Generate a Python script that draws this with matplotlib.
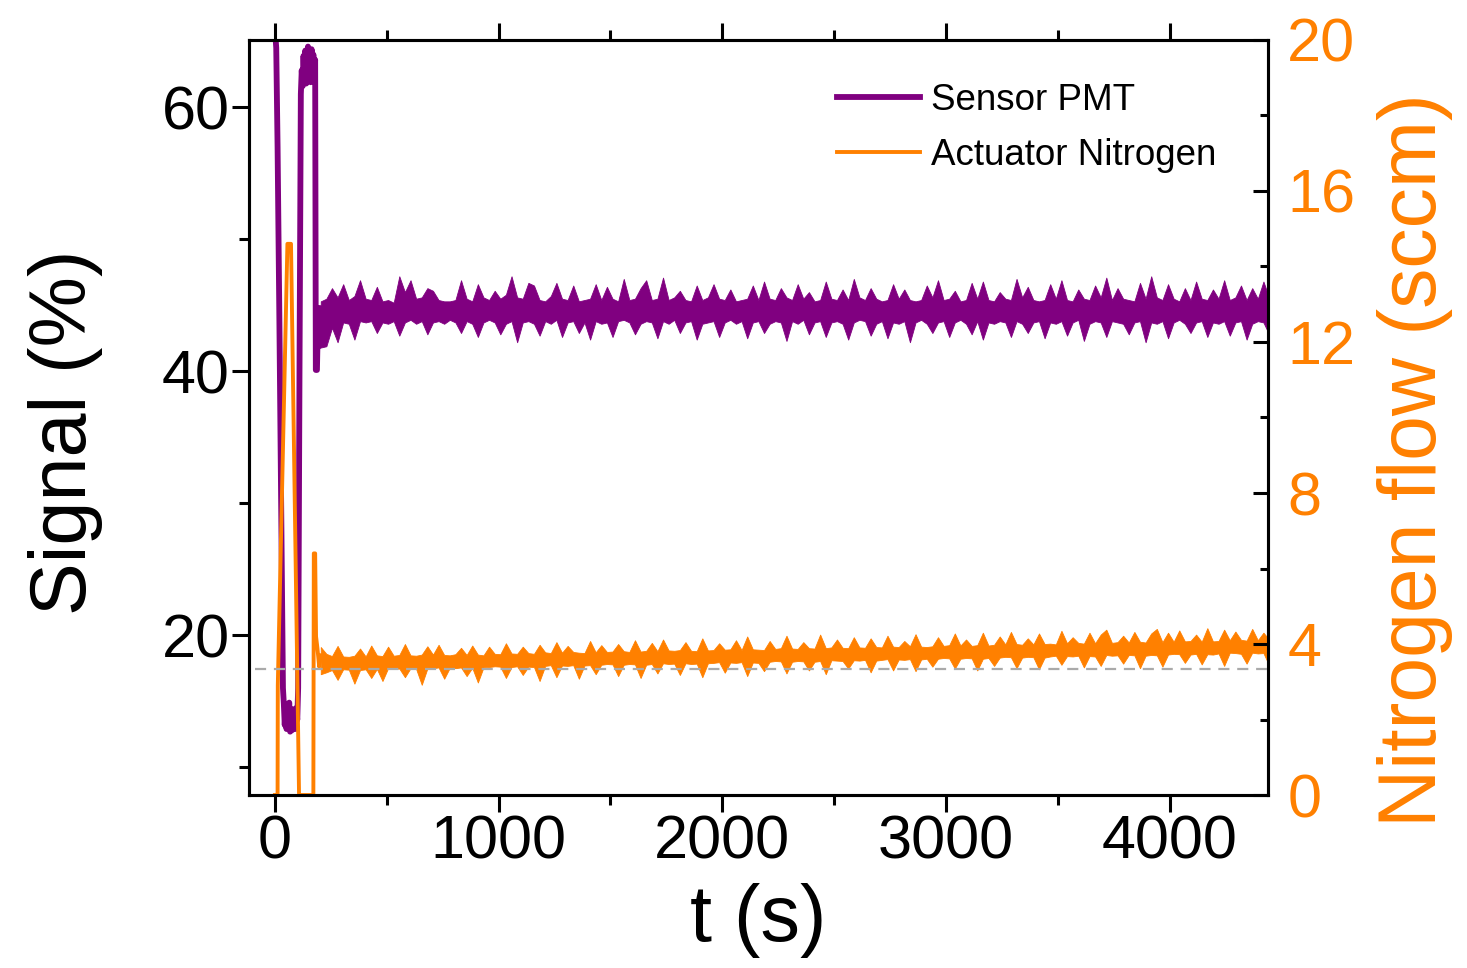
import numpy as np
import matplotlib
matplotlib.use("Agg")
import matplotlib.pyplot as plt
from matplotlib.ticker import MultipleLocator

PURPLE = "#800080"
ORANGE = "#ff8000"

# start-up transient
pmt_t0 = [0, 6, 12, 20, 28, 36,
          40, 44, 48, 52, 56, 60, 64, 68, 72, 76, 80, 84, 88, 92, 96, 100,
          104, 110, 116,
          120, 124, 128, 132, 136, 140, 144, 148, 152, 156, 160, 164, 168, 172, 176, 180,
          183, 188, 192, 197, 201, 206]
pmt_v0 = [66, 64.5, 57, 44, 30, 16,
          14.8, 13.2, 14.6, 12.9, 14.2, 13.1, 14.9, 12.7, 13.8, 12.8, 14.4, 13.0, 13.9, 12.9, 14.5, 13.6,
          16, 40, 61,
          62.8, 61.6, 63.9, 62.0, 64.3, 61.8, 63.2, 64.6, 62.1, 63.7, 61.9, 64.4, 62.6, 64.0, 62.3, 63.6,
          40.1, 40.1, 43.5, 41.9, 44.8, 42.6]

n2_t0 = [0, 12, 13, 56, 72, 108, 172, 174, 180, 184, 190, 198, 206]
n2_v0 = [0, 0, 2.9, 14.6, 14.6, 0, 0, 6.4, 6.4, 4.2, 3.9, 3.4, 3.7]

# steady part: upper / lower edge of the noisy band, every ~25 s from 205 s
pmt_hi = [45.3, 45.5, 46.3, 45.6, 46.6, 45.4, 45.7, 46.9, 45.5, 45.4,
          46.4, 45.3, 45.4, 45.2, 47.2, 46.0, 46.9, 45.5, 45.6, 46.3,
          46.1, 45.4, 45.3, 45.3, 45.4, 46.9, 45.5, 45.3, 46.6, 45.6,
          45.4, 46.1, 45.5, 45.8, 47.2, 45.6, 45.5, 46.7, 46.5, 45.4,
          45.3, 45.7, 46.7, 45.5, 45.4, 46.5, 45.3, 45.4, 45.5, 46.6,
          45.4, 46.4, 45.5, 45.3, 47.0, 45.4, 45.5, 46.3, 46.9, 45.4,
          45.5, 47.1, 45.4, 45.6, 46.1, 45.4, 45.3, 46.5, 45.4, 45.6,
          46.6, 45.5, 45.4, 46.2, 45.3, 45.4, 45.5, 46.5, 45.4, 46.8,
          45.5, 45.4, 46.3, 45.6, 45.4, 46.6, 45.5, 46.0, 45.3, 45.4,
          46.8, 45.5, 45.4, 46.2, 45.4, 47.0, 45.6, 45.4, 46.3, 45.5,
          45.3, 45.4, 46.6, 45.5, 46.2, 45.4, 45.3, 45.4, 46.5, 45.6,
          46.9, 45.4, 45.5, 46.1, 45.3, 45.4, 46.7, 45.5, 46.8, 45.4,
          45.3, 46.0, 45.5, 45.4, 47.0, 45.6, 46.4, 45.4, 45.3, 45.4,
          46.6, 45.5, 46.9, 45.4, 45.3, 46.2, 45.5, 45.4, 46.5, 45.6,
          47.1, 45.4, 46.3, 45.5, 45.4, 45.3, 46.7, 45.5, 47.2, 45.6,
          45.4, 46.6, 45.5, 45.3, 46.3, 45.4, 46.8, 45.5, 45.4, 46.2,
          45.5, 46.9, 45.4, 45.6, 46.5, 45.4, 46.3, 45.5, 46.8, 45.6]
pmt_lo = [41.8, 41.9, 43.3, 42.2, 43.7, 43.6, 42.4, 43.8, 43.7, 43.8,
          42.9, 43.7, 43.6, 43.8, 42.7, 43.7, 43.9, 43.6, 43.8, 42.8,
          43.7, 43.8, 43.6, 43.9, 43.7, 42.9, 43.8, 43.6, 42.6, 43.7,
          43.9, 43.7, 42.8, 43.6, 43.8, 42.2, 43.7, 43.8, 43.6, 42.7,
          43.8, 43.6, 43.9, 42.6, 43.7, 43.8, 42.9, 43.7, 42.4, 43.8,
          43.6, 43.7, 42.6, 43.8, 43.9, 43.7, 42.8, 43.6, 43.8, 43.7,
          42.5, 43.8, 43.6, 43.9, 42.9, 43.7, 43.8, 42.4, 43.6, 43.7,
          43.8, 42.6, 43.7, 43.9, 43.6, 43.8, 42.5, 43.7, 43.8, 42.9,
          43.6, 43.8, 43.7, 42.3, 43.8, 43.6, 43.9, 42.8, 43.7, 43.8,
          42.6, 43.7, 43.8, 43.6, 42.4, 43.7, 43.9, 43.8, 42.7, 43.6,
          43.8, 42.5, 43.7, 43.6, 43.8, 42.2, 43.7, 43.9, 43.6, 42.9,
          43.7, 43.8, 42.6, 43.7, 43.9, 43.6, 42.8, 43.8, 42.4, 43.7,
          43.6, 43.8, 43.7, 42.6, 43.8, 43.6, 42.9, 43.7, 43.8, 42.5,
          43.7, 43.6, 43.8, 42.7, 43.7, 43.9, 42.3, 43.6, 43.8, 43.7,
          42.6, 43.8, 43.7, 43.6, 42.8, 43.7, 43.8, 42.2, 43.7, 43.6,
          43.8, 42.5, 43.7, 43.9, 43.6, 42.9, 43.7, 43.8, 42.6, 43.7,
          43.6, 43.8, 42.7, 43.7, 43.8, 42.4, 43.6, 43.8, 43.7, 42.8]

n2_hi = [3.92, 3.74, 3.68, 3.95, 3.67, 3.66, 3.69, 3.88, 3.67, 3.96,
         3.70, 3.68, 3.93, 3.69, 3.71, 4.00, 3.70, 3.69, 3.72, 3.94,
         3.72, 3.98, 3.71, 3.70, 3.73, 3.90, 3.71, 3.96, 3.72, 3.70,
         3.93, 3.74, 3.73, 4.02, 3.75, 3.74, 3.93, 3.76, 3.74, 3.98,
         3.78, 3.76, 4.05, 3.77, 3.95, 3.79, 3.77, 3.76, 4.08, 3.78,
         3.97, 3.79, 3.80, 4.00, 3.81, 3.79, 4.10, 3.80, 3.82, 4.03,
         3.81, 4.12, 3.83, 3.82, 3.84, 4.05, 3.82, 3.81, 4.15, 3.83,
         3.84, 4.02, 3.85, 3.86, 4.10, 3.84, 4.20, 3.86, 3.85, 3.84,
         4.08, 3.87, 3.89, 4.22, 3.88, 3.87, 4.05, 3.89, 3.88, 4.25,
         3.89, 3.91, 4.12, 3.90, 3.89, 4.18, 3.91, 3.90, 4.15, 3.92,
         3.91, 4.22, 3.93, 3.92, 4.08, 3.94, 4.26, 3.93, 3.92, 3.94,
         4.18, 3.95, 3.97, 4.28, 3.96, 4.12, 3.95, 3.97, 4.30, 3.96,
         3.98, 4.20, 3.99, 4.32, 4.00, 3.98, 4.15, 3.99, 4.28, 4.00,
         4.01, 3.99, 4.35, 4.02, 4.18, 4.03, 4.01, 4.30, 4.02, 4.25,
         4.38, 4.03, 4.05, 4.22, 4.04, 4.32, 4.06, 4.04, 4.28, 4.40,
         4.05, 4.30, 4.06, 4.36, 4.07, 4.08, 4.25, 4.06, 4.42, 4.07,
         4.08, 4.38, 4.10, 4.33, 4.11, 4.09, 4.40, 4.10, 4.30, 4.12]
n2_lo = [3.20, 3.25, 3.31, 3.05, 3.33, 3.32, 2.95, 3.31, 3.33, 3.10,
         3.34, 3.02, 3.36, 3.34, 3.35, 3.12, 3.36, 3.34, 2.92, 3.35,
         3.36, 3.38, 3.08, 3.37, 3.36, 3.38, 3.15, 3.37, 2.98, 3.38,
         3.39, 3.41, 3.40, 3.10, 3.39, 3.41, 3.18, 3.40, 3.39, 3.02,
         3.42, 3.44, 3.12, 3.43, 3.42, 3.44, 3.08, 3.43, 3.44, 3.20,
         3.45, 3.47, 3.46, 3.15, 3.45, 3.47, 3.46, 3.10, 3.45, 3.47,
         3.22, 3.49, 3.47, 3.48, 3.18, 3.49, 3.47, 3.48, 3.12, 3.49,
         3.50, 3.52, 3.24, 3.51, 3.50, 3.52, 3.15, 3.51, 3.50, 3.28,
         3.53, 3.55, 3.54, 3.22, 3.53, 3.55, 3.54, 3.30, 3.53, 3.55,
         3.20, 3.57, 3.56, 3.55, 3.35, 3.57, 3.56, 3.58, 3.25, 3.56,
         3.58, 3.60, 3.30, 3.59, 3.58, 3.60, 3.28, 3.59, 3.61, 3.40,
         3.61, 3.63, 3.62, 3.35, 3.61, 3.63, 3.62, 3.30, 3.61, 3.63,
         3.42, 3.64, 3.66, 3.65, 3.36, 3.64, 3.66, 3.65, 3.33, 3.64,
         3.67, 3.69, 3.45, 3.68, 3.67, 3.69, 3.38, 3.68, 3.67, 3.42,
         3.71, 3.69, 3.70, 3.48, 3.71, 3.70, 3.36, 3.69, 3.71, 3.70,
         3.40, 3.72, 3.74, 3.73, 3.50, 3.72, 3.74, 3.46, 3.73, 3.72,
         3.75, 3.42, 3.77, 3.76, 3.74, 3.48, 3.77, 3.75, 3.76, 3.44]

setpoint = 3.34  # dashed reference level, sccm

plt.rcParams['font.family'] = ['Liberation Sans', 'DejaVu Sans']

fig = plt.figure(figsize=(14.67, 9.68), dpi=100)
ax = fig.add_axes([0.1697, 0.1787, 0.6946, 0.78])
ax2 = ax.twinx()

n = min(len(pmt_hi), len(pmt_lo))
t_p = np.linspace(205, 4445, n)
ln1, = ax.plot(pmt_t0, pmt_v0, color=PURPLE, lw=4.2, label='Sensor PMT')
ax.fill_between(t_p, pmt_lo[:n], pmt_hi[:n], color=PURPLE, lw=0.6)

m = min(len(n2_hi), len(n2_lo))
t_n = np.linspace(205, 4445, m)
ln2, = ax2.plot(n2_t0, n2_v0, color=ORANGE, lw=2.8, label='Actuator Nitrogen')
ax2.fill_between(t_n, n2_lo[:m], n2_hi[:m], color=ORANGE, lw=0.6)
ax2.axhline(setpoint, xmin=0.006, color='#aaaaaa', lw=1.6, ls=(0, (5, 3.5)))

ax.set_xlim(-116, 4440)
ax.set_ylim(7.9, 65.1)
ax2.set_ylim(0, 20)

ax.xaxis.set_major_locator(MultipleLocator(1000))
ax.xaxis.set_minor_locator(MultipleLocator(500))
ax.yaxis.set_major_locator(MultipleLocator(20))
ax.yaxis.set_minor_locator(MultipleLocator(10))
ax2.yaxis.set_major_locator(MultipleLocator(4))
ax2.yaxis.set_minor_locator(MultipleLocator(2))

for sp in ax.spines.values():
    sp.set_linewidth(2.2)
for sp in ax2.spines.values():
    sp.set_linewidth(2.2)

ax.tick_params(axis='both', which='both', direction='out', width=2.2,
               labelsize=44, top=True, right=False, pad=2)
ax.tick_params(which='major', length=12)
ax.tick_params(which='minor', length=7)
ax2.tick_params(axis='y', which='both', direction='in', width=2.2,
                labelsize=44, labelcolor=ORANGE, pad=14)
ax2.tick_params(axis='y', which='major', length=11)
ax2.tick_params(axis='y', which='minor', length=6)

ax.set_xlabel('t (s)', fontsize=57, labelpad=8)
ax.set_ylabel('Signal (%)', fontsize=57)
ax.yaxis.set_label_coords(-0.143, 0.481)
ax2.set_ylabel('Nitrogen flow (sccm)', fontsize=58, color=ORANGE)
ax2.yaxis.set_label_coords(1.107, 0.444)

ax2.legend(handles=[ln1, ln2], loc='upper right', frameon=False, fontsize=26.5,
           handlelength=2.25, handletextpad=0.3, labelspacing=0.55,
           bbox_to_anchor=(0.982, 0.987))

fig.savefig('out.png', dpi=100)
